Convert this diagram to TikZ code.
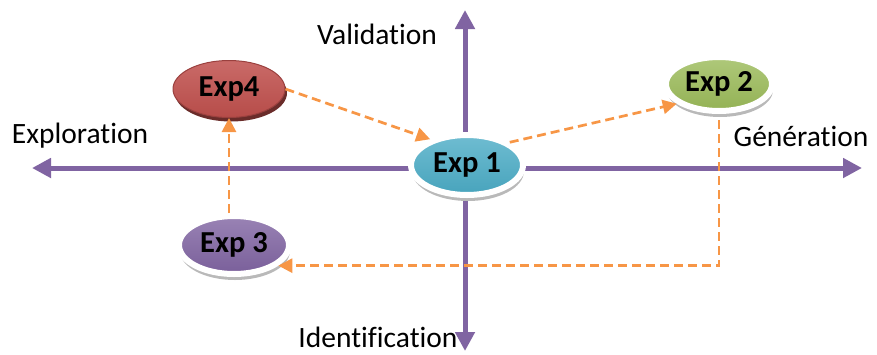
\documentclass[tikz,border=0pt]{standalone}
\usepackage{fontspec}
\setmainfont{Carlito}[Ligatures={NoCommon}]
\usetikzlibrary{arrows.meta,shapes.geometric,shadows}
\definecolor{axispurple}{HTML}{8064A2}
\definecolor{dashorange}{HTML}{F79646}
\definecolor{cteal}{HTML}{4BACC6}
\definecolor{cgreen}{HTML}{9BBB59}
\definecolor{cred}{HTML}{C0504D}
\definecolor{cpurple}{HTML}{8064A2}
\tikzset{
  axis/.style={draw=axispurple, line width=5pt,
    {Triangle[width=19pt,length=19pt]}-{Triangle[width=19pt,length=19pt]}},
  dasharrow/.style={draw=dashorange, line width=2.7pt, dash pattern=on 9pt off 5pt,
    -{Triangle[width=14pt,length=14pt]}},
  axislabel/.style={font=\fontsize{29.5}{31}\selectfont, inner sep=0pt},
  expnode/.style={ellipse, draw=white, line width=6pt, inner sep=0pt,
    font=\fontsize{30.5}{32}\selectfont\bfseries, text=black,
    top color=#1!80!white, bottom color=#1!95!black,
    drop shadow={shadow xshift=1pt, shadow yshift=-6pt, fill=gray!55, opacity=1}},
}
\begin{document}
\begin{tikzpicture}[x=1pt,y=-1pt]
\useasboundingbox (0,0) rectangle (877,354);
% axes
\coordinate (xl) at (32,168);
\coordinate (xr) at (862,168);
\coordinate (yt) at (465,10);
\coordinate (yb) at (465,351);
\draw[axis] (xl) -- (xr);
\draw[axis] (yb) -- (yt);
% labels
\node[axislabel] (lv) at (377,34) {Validation};
\node[axislabel] (le) at (80,136) {Exploration};
\node[axislabel] (lg) at (801,136) {Génération};
\node[axislabel] (li) at (378,337) {Identification};
% nodes
\node[expnode=cteal, minimum width=112pt, minimum height=60pt] (e1) at (467,165) {Exp 1};
\node[expnode=cgreen, minimum width=106pt, minimum height=54pt] (e2) at (719,84) {Exp 2};
\node[expnode=cpurple, minimum width=110pt, minimum height=58pt] (e3) at (234,245) {Exp 3};
\node[ellipse, draw=cred!80!black, line width=1pt, inner sep=0pt,
  minimum width=112pt, minimum height=57pt,
  font=\fontsize{30.5}{32}\selectfont\bfseries, text=black,
  top color=cred!85!white, bottom color=cred!95!black,
  drop shadow={shadow xshift=2pt, shadow yshift=-4pt, fill=cred!55!black, opacity=1}]
  (e4) at (229,89) {Exp4};
% connectors
\draw[dasharrow] (e4.east) -- (e1.145);
\draw[dasharrow] (e1.28) -- (e2.205);
\draw[dasharrow] (e3.north -| e4.south) -- (e4.south);
\draw[dasharrow] ([yshift=-6pt]e2.south) |- (e3.-25);
\end{tikzpicture}
\end{document}
